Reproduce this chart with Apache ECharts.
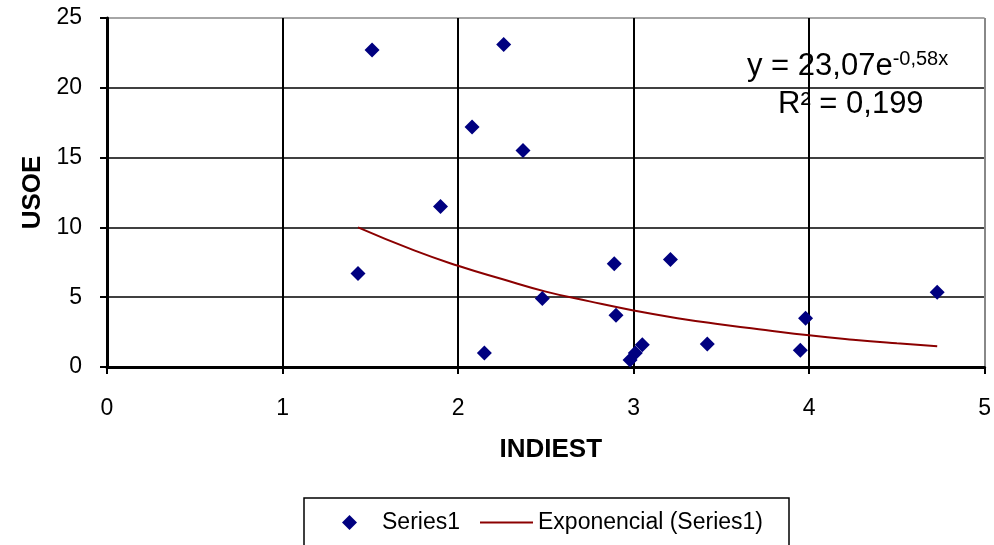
<!DOCTYPE html>
<html>
<head>
<meta charset="utf-8">
<script src="https://cdn.jsdelivr.net/npm/echarts@6/dist/echarts.min.js"></script>
<style>
  html, body { margin: 0; padding: 0; background: #fff; }
  #chart { width: 994px; height: 545px; }
</style>
</head>
<body>
<div id="chart"></div>
<script>
// scatter points (INDIEST, USOE)
const indiest = [1.43, 1.51, 1.90, 2.08, 2.15, 2.26, 2.37, 2.48, 2.89, 2.90, 2.98, 3.01, 3.05, 3.21, 3.42, 3.95, 3.98, 4.73];
const usoe    = [6.7, 22.7, 11.5, 17.2, 1.0, 23.1, 15.5, 4.9, 7.4, 3.7, 0.5, 1.0, 1.6, 7.7, 1.65, 1.2, 3.5, 5.35];

// exponential trendline, values
const trendX = [1.43, 1.75, 2.0, 2.25, 2.5, 2.75, 3.0, 3.25, 3.5, 3.75, 4.0, 4.25, 4.5, 4.73];
const trendY = [10.0, 8.35, 7.25, 6.3, 5.4, 4.7, 4.05, 3.5, 3.05, 2.65, 2.27, 1.96, 1.7, 1.49];

const xTicks = [0, 5, 1];   // min, max, interval
const yTicks = [0, 25, 5];

const chart = echarts.init(document.getElementById('chart'));

const font = 'Liberation Sans, Arial, sans-serif';
const red = '#8B0000';

let option = {
    animation: false,
    textStyle: { fontFamily: font },
    grid: { left: 107, right: 9, top: 18, bottom: 178 },
    xAxis: {
        type: 'value',
        min: xTicks[0], max: xTicks[1], interval: xTicks[2],
        name: 'INDIEST',
        nameLocation: 'middle',
        nameGap: 70,
        nameTextStyle: { fontSize: 26, fontWeight: 'bold', color: '#000', fontFamily: font, padding: [0, 0, 0, 10] },
        axisLine: { lineStyle: { color: '#000', width: 3 } },
        axisTick: { show: true, length: 7, lineStyle: { color: '#000', width: 2 } },
        axisLabel: { fontSize: 23, color: '#000', margin: 30, fontFamily: font },
        splitLine: { lineStyle: { color: ['#000', '#000', '#000', '#000', '#000', '#888'], width: 2 } }
    },
    yAxis: {
        type: 'value',
        min: yTicks[0], max: yTicks[1], interval: yTicks[2],
        name: 'USOE',
        nameLocation: 'middle',
        nameGap: 60,
        nameTextStyle: { fontSize: 26, fontWeight: 'bold', color: '#000', fontFamily: font },
        axisLine: { lineStyle: { color: '#000', width: 3 } },
        axisTick: { show: true, length: 7, lineStyle: { color: '#000', width: 2 } },
        axisLabel: { fontSize: 23, color: '#000', margin: 25, fontFamily: font },
        splitLine: { lineStyle: { color: ['#000', '#000', '#000', '#000', '#000', '#888'], width: 1.5 } }
    },
    legend: [
        {
            left: 342,
            top: 511,
            padding: 0,
            itemWidth: 15,
            itemHeight: 15,
            textStyle: { fontSize: 23, color: '#000', fontFamily: font, padding: [0, 0, 0, 20] },
            data: [{ name: 'Series1', icon: 'diamond' }]
        },
        {
            left: 480,
            top: 511,
            padding: 0,
            itemWidth: 53,
            itemHeight: 2,
            textStyle: { fontSize: 23, color: '#000', fontFamily: font },
            data: [{ name: 'Exponencial (Series1)', icon: 'rect', itemStyle: { color: red } }]
        }
    ],
    graphic: [
        {
            type: 'rect',
            shape: { x: 304, y: 498, width: 485, height: 70 },
            style: { fill: 'none', stroke: '#000', lineWidth: 1.5 },
            silent: true
        },
        {
            type: 'text',
            left: 747,
            top: 49,
            style: {
                text: '{a|y = 23,07e}{b|-0,58x}',
                rich: {
                    a: { fontSize: 31, fill: '#000', fontFamily: font },
                    b: { fontSize: 20, fill: '#000', fontFamily: font, verticalAlign: 'top', padding: [0, 0, 14, 0] }
                }
            }
        },
        {
            type: 'text',
            left: 778,
            top: 89,
            style: {
                text: 'R² = 0,199',
                fontSize: 31,
                fill: '#000',
                fontFamily: font
            }
        }
    ],
    series: [
        {
            name: 'Series1',
            type: 'scatter',
            symbol: 'diamond',
            symbolSize: 15,
            itemStyle: { color: '#000080', opacity: 1 },
            data: indiest.map((x, i) => [x, usoe[i]]),
            z: 3
        },
        {
            name: 'Exponencial (Series1)',
            type: 'line',
            symbol: 'none',
            smooth: true,
            lineStyle: { color: red, width: 2 },
            itemStyle: { color: red },
            data: trendX.map((x, i) => [x, trendY[i]]),
            z: 2
        }
    ]
};

chart.setOption(option);
</script>
</body>
</html>
